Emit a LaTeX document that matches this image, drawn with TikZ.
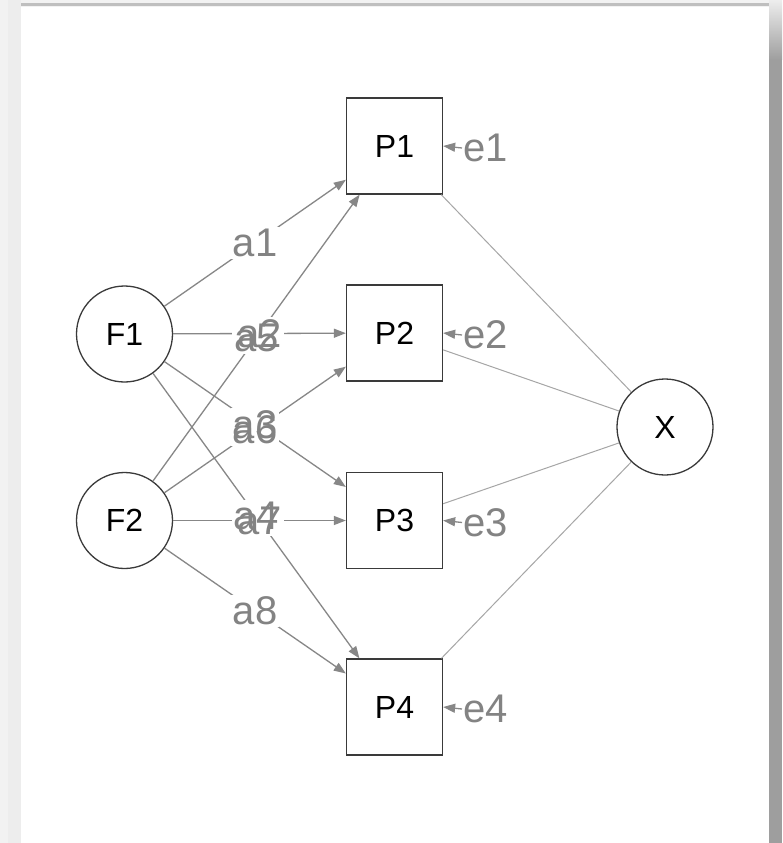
\documentclass[tikz,border=0pt]{standalone}
\usepackage{fontspec}
\setmainfont{Liberation Sans}
\usetikzlibrary{arrows.meta}
\definecolor{edgegray}{HTML}{878787}
\definecolor{lblgray}{HTML}{838383}
\definecolor{xgray}{HTML}{A6A6A6}
\definecolor{nodeline}{HTML}{3A3A3A}
\tikzset{
  latent/.style={circle, draw=nodeline, line width=1.3pt, minimum size=96pt, inner sep=0pt, fill=white,
    font=\fontsize{32}{38}\selectfont},
  manifest/.style={rectangle, draw=nodeline, line width=1.3pt, minimum size=96pt, inner sep=0pt, fill=white,
    font=\fontsize{32}{38}\selectfont},
  pathedge/.style={draw=edgegray, line width=1.3pt, -{Triangle[length=12pt,width=9pt]}},
  xedge/.style={draw=xgray, line width=1pt},
  lblbg/.style={fill=white, text opacity=0, inner sep=2pt, font=\fontsize{40}{46}\selectfont},
  lbltx/.style={text=lblgray, inner sep=2pt, font=\fontsize{40}{46}\selectfont},
  resid/.style={text=lblgray, anchor=west, inner sep=1pt, font=\fontsize{40}{46}\selectfont},
}
\begin{document}
\begin{tikzpicture}[x=1pt,y=-1pt]
% frame / shadow
\useasboundingbox (0,0) rectangle (782,843);
\fill[white!95!black] (0,0) rectangle (782,843);
\fill[white!93!black] (8,0) rectangle (21,843);
\shade[top color=white!93!black, bottom color=white!62!black] (769,0) rectangle (782,60);
\fill[white!62!black] (769,60) rectangle (782,843);
\fill[white] (21,7) rectangle (769,843);
\fill[white!75!black] (21,3.5) rectangle (769,6.5);

% nodes
\node[latent] (F1) at (124.5,334) {F1};
\node[latent] (F2) at (124.5,520.5) {F2};
\node[latent] (X) at (665,427) {X};
\node[manifest] (P1) at (394.5,146) {P1};
\node[manifest] (P2) at (394.5,333) {P2};
\node[manifest] (P3) at (394.5,520.5) {P3};
\node[manifest] (P4) at (394.5,707) {P4};

% X connections
\draw[xedge] (P1) -- (X);
\draw[xedge] (P2) -- (X);
\draw[xedge] (P3) -- (X);
\draw[xedge] (P4) -- (X);

% loadings
\draw[pathedge] (F1) -- (P1) coordinate[pos=0.5] (m1);
\draw[pathedge] (F1) -- (P2) coordinate[pos=0.5] (m2);
\draw[pathedge] (F1) -- (P3) coordinate[pos=0.5] (m3);
\draw[pathedge] (F1) -- (P4) coordinate[pos=0.5] (m4);
\draw[pathedge] (F2) -- (P1) coordinate[pos=0.5] (m5);
\draw[pathedge] (F2) -- (P2) coordinate[pos=0.5] (m6);
\draw[pathedge] (F2) -- (P3) coordinate[pos=0.5] (m7);
\draw[pathedge] (F2) -- (P4) coordinate[pos=0.5] (m8);

% label backgrounds
\foreach \i in {1,...,8} {\node[lblbg] at (m\i) {a\i};}
% label texts
\foreach \i in {1,...,8} {\node[lbltx] (a\i) at (m\i) {a\i};}

% residuals
\node[resid] (e1) at (462,148) {e1};
\node[resid] (e2) at (462,335) {e2};
\node[resid] (e3) at (462,522.5) {e3};
\node[resid] (e4) at (462,709) {e4};
\draw[pathedge] (e1.west) -- (P1.east);
\draw[pathedge] (e2.west) -- (P2.east);
\draw[pathedge] (e3.west) -- (P3.east);
\draw[pathedge] (e4.west) -- (P4.east);
\end{tikzpicture}
\end{document}
